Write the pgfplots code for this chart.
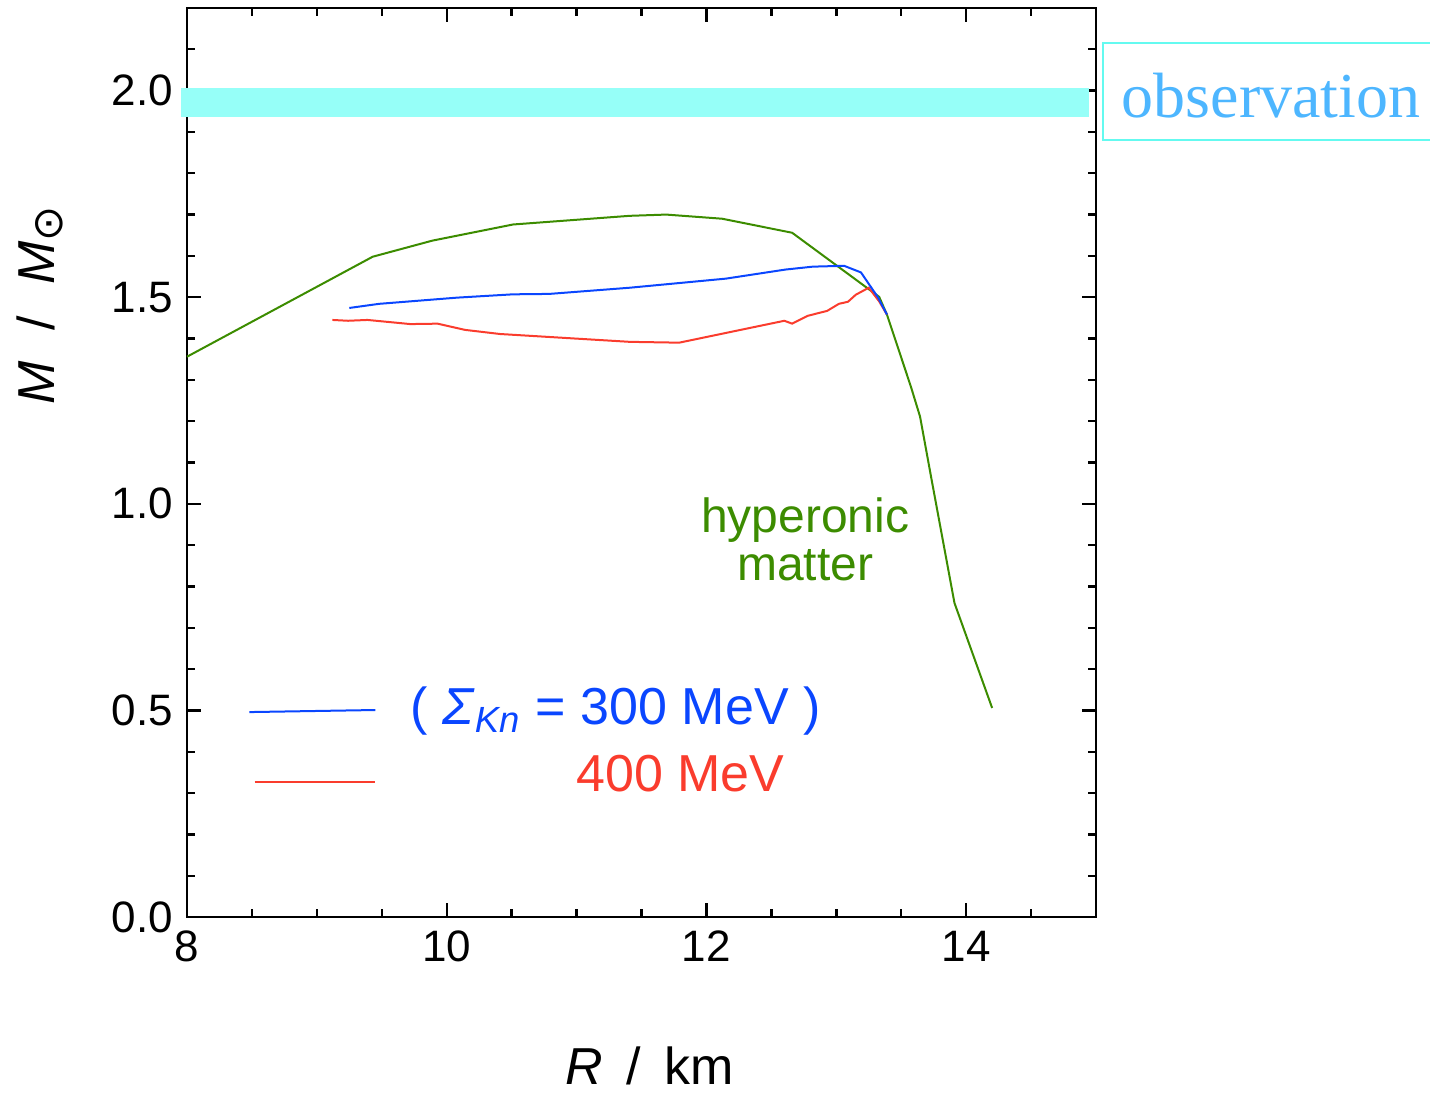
\documentclass[border=0pt]{standalone}
\usepackage{fontspec}
\setmainfont{Liberation Sans}
\newfontfamily\obsfont{Liberation Serif}
\newfontfamily\symfont{DejaVu Sans}
\usepackage{pgfplots}
\pgfplotsset{compat=1.18}
\definecolor{cgreen}{RGB}{60,140,0}
\definecolor{cblue}{RGB}{10,70,255}
\definecolor{cred}{RGB}{250,60,45}
\definecolor{cband}{RGB}{150,255,248}
\definecolor{cobs}{RGB}{77,182,255}
\definecolor{cbox}{RGB}{100,250,240}

\begin{document}
\begin{tikzpicture}
\begin{axis}[
  scale only axis, width=227.25pt, height=227.25pt,
  xmin=8, xmax=15, ymin=0, ymax=2.2,
  xtick={8,10,12,14},
  minor xtick={8.5,9,9.5,10.5,11,11.5,12.5,13,13.5,14.5},
  ytick={0,0.5,1,1.5,2},
  minor ytick={0.1,0.2,0.3,0.4,0.6,0.7,0.8,0.9,1.1,1.2,1.3,1.4,1.6,1.7,1.8,1.9,2.1},
  tick align=inside, major tick length=3.5pt, minor tick length=2pt,
  axis line style={line width=0.6pt},
  every tick/.style={black, line width=0.6pt},
  yticklabel style={/pgf/number format/.cd, fixed, fixed zerofill, precision=1},
  /pgf/number format/assume math mode=true,
  ticklabel style={font=\fontsize{11}{13}\selectfont},
  clip=false,
  xlabel={\textit{R}\hspace{0.45em}/\hspace{0.45em}km},
  ylabel={\textit{M}\hspace{0.6em}/\hspace{0.6em}\textit{M}\raisebox{-0.15em}{\fontsize{10.5}{11}\symfont ⊙}},
  xlabel style={at={(rel axis cs:0.509,-0.1635)}, anchor=center, font=\fontsize{13}{15}\selectfont},
  ylabel style={at={(rel axis cs:-0.162,0.673)}, anchor=center, font=\fontsize{13}{15}\selectfont},
]
% observation band
\addplot[fill=cband, draw=none] coordinates {(7.954,1.935) (14.946,1.935) (14.946,2.007) (7.954,2.007)} -- cycle;

% hyperonic matter
\addplot[cgreen, line width=0.5pt] coordinates {
(8.00,1.356) (9.43,1.598) (9.89,1.637) (10.51,1.676) (11.41,1.697) (11.69,1.700)
(12.12,1.690) (12.66,1.656) (13.33,1.501) (13.39,1.458) (13.48,1.373) (13.575,1.283)
(13.645,1.211) (13.73,1.065) (13.91,0.760) (14.20,0.506)};

% 400 MeV
\addplot[cred, line width=0.5pt] coordinates {
(9.12,1.445) (9.24,1.443) (9.39,1.445) (9.72,1.435) (9.93,1.436) (10.14,1.421)
(10.41,1.411) (11.41,1.392) (11.79,1.390) (12.60,1.443) (12.66,1.436) (12.78,1.455)
(12.93,1.467) (13.02,1.484) (13.09,1.489) (13.15,1.506) (13.25,1.523) (13.33,1.490)
(13.39,1.458)};

% 300 MeV
\addplot[cblue, line width=0.5pt] coordinates {
(9.25,1.474) (9.48,1.484) (10.08,1.499) (10.51,1.507) (10.79,1.508) (11.41,1.523)
(12.15,1.545) (12.61,1.567) (12.82,1.574) (13.06,1.576) (13.19,1.560) (13.32,1.500)
(13.39,1.458)};

% legend lines
\addplot[cblue, line width=0.5pt] coordinates {(8.48,0.496) (9.45,0.501)};
\addplot[cred, line width=0.5pt] coordinates {(8.52,0.327) (9.45,0.327)};

\node[text=cblue, font=\fontsize{13}{15}\selectfont] at (axis cs:11.30,0.499)
  {( \textit{Σ}\textsubscript{\textit{Kn}} = 300 MeV )};
\node[text=cred, font=\fontsize{13}{15}\selectfont] at (axis cs:11.80,0.346) {400 MeV};
\node[text=cgreen, font=\fontsize{12}{12}\selectfont, align=center] at (axis cs:12.76,0.915)
  {hyperonic\\matter};

% observation box
\draw[cbox, line width=0.5pt] (rel axis cs:1.0077,0.8548) rectangle (rel axis cs:1.45,0.9615);
\node[text=cobs, font=\obsfont\fontsize{16}{18}\selectfont, anchor=base] at (rel axis cs:1.1925,0.880) {observation};

\coordinate (bbSW) at (rel axis cs:-0.2057,-0.1925);
\coordinate (bbNE) at (rel axis cs:1.3674,1.0088);
\end{axis}
\pgfresetboundingbox
\useasboundingbox (bbSW) rectangle (bbNE);
\end{tikzpicture}
\end{document}
